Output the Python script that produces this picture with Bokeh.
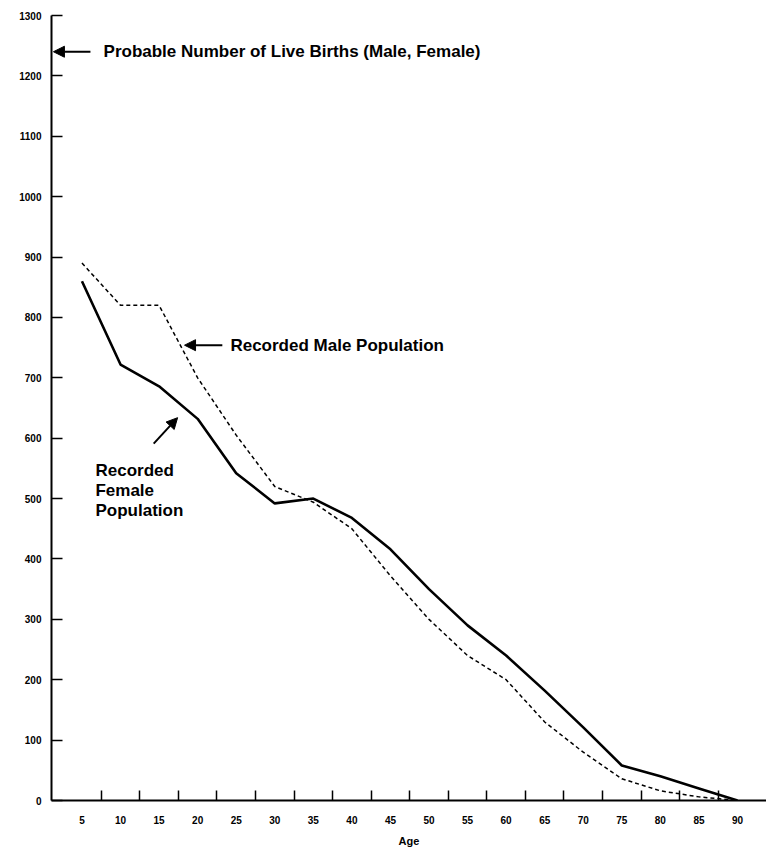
from bokeh.plotting import figure
from bokeh.models import FixedTicker, Arrow, NormalHead, Range1d, ColumnDataSource
from bokeh.core.properties import value
from bokeh.embed import file_html
from bokeh.resources import INLINE

ages = [5, 10, 15, 20, 25, 30, 35, 40, 45, 50, 55, 60, 65, 70, 75, 80, 85, 90]
female = [860, 722, 686, 632, 542, 492, 500, 468, 416, 350, 290, 240, 182, 121, 58, 40, 20, 0]
male = [890, 820, 820, 700, 605, 520, 494, 450, 372, 300, 240, 200, 130, 80, 36, 16, 6, 0]
births = 1240
y_ticks = [0, 100, 200, 300, 400, 500, 600, 700, 800, 900, 1000, 1100, 1200, 1300]
x_minor = [7.5, 12.5, 17.5, 22.5, 27.5, 32.5, 37.5, 42.5, 47.5, 52.5, 57.5, 62.5,
           67.5, 72.5, 77.5, 82.5, 87.5]

FONT = "Liberation Sans"

p = figure(width=766, height=851, output_backend="svg", toolbar_location=None,
           x_range=Range1d(1.05, 93.76), y_range=Range1d(0, 1300),
           min_border_left=51, min_border_right=0, min_border_top=15, min_border_bottom=51)
p.outline_line_color = None
p.grid.visible = False

# axes
p.xaxis.ticker = FixedTicker(ticks=ages, minor_ticks=x_minor)
p.xaxis.major_tick_in = 0
p.xaxis.major_tick_out = 0
p.xaxis.minor_tick_in = 10
p.xaxis.minor_tick_out = 0
p.xaxis.minor_tick_line_width = 1.5
p.xaxis.minor_tick_line_color = "black"
p.xaxis.axis_label = "Age"
p.xaxis.major_label_standoff = 15
p.xaxis.axis_label_standoff = 8

p.yaxis.ticker = FixedTicker(ticks=y_ticks)
p.yaxis.major_tick_in = 11
p.yaxis.major_tick_out = 0
p.yaxis.minor_tick_in = 0
p.yaxis.minor_tick_out = 0
p.yaxis.major_tick_line_width = 1.5
p.yaxis.major_label_standoff = 10

for ax in (p.xaxis, p.yaxis):
    ax.axis_line_width = 2
    ax.axis_line_color = "black"
    ax.major_label_text_font = FONT
    ax.major_label_text_font_style = "bold"
    ax.major_label_text_font_size = "10px"
    ax.major_label_text_color = "black"
p.xaxis.axis_label_text_font = FONT
p.xaxis.axis_label_text_font_style = "bold"
p.xaxis.axis_label_text_font_size = "11px"
p.xaxis.axis_label_text_color = "black"

# lines
p.line(ages, female, line_color="black", line_width=2.6)
p.line(ages, male, line_color="black", line_width=1.5, line_dash="4 3")

# annotations
def arrow(x0, y0, x1, y1):
    p.add_layout(Arrow(end=NormalHead(size=11, fill_color="black", line_color="black"),
                       x_start=x0, y_start=y0, x_end=x1, y_end=y1,
                       line_color="black", line_width=2))

arrow(6.1, births, 1.3, births)
arrow(23.2, 754, 18.3, 754)
arrow(14.3, 591, 17.4, 634)

labels = ColumnDataSource(dict(
    x=[7.8, 24.25, 6.75, 6.75, 6.75],
    y=[births, 754, 547, 513, 480],
    t=["Probable Number of Live Births (Male, Female)", "Recorded Male Population",
       "Recorded", "Female", "Population"]))
p.text(x="x", y="y", text="t", source=labels, text_font=value(FONT),
       text_font_style="bold", text_font_size="17px", text_baseline="middle",
       text_align="left", text_color="black")

open("out.html", "w").write(file_html(p, INLINE))
